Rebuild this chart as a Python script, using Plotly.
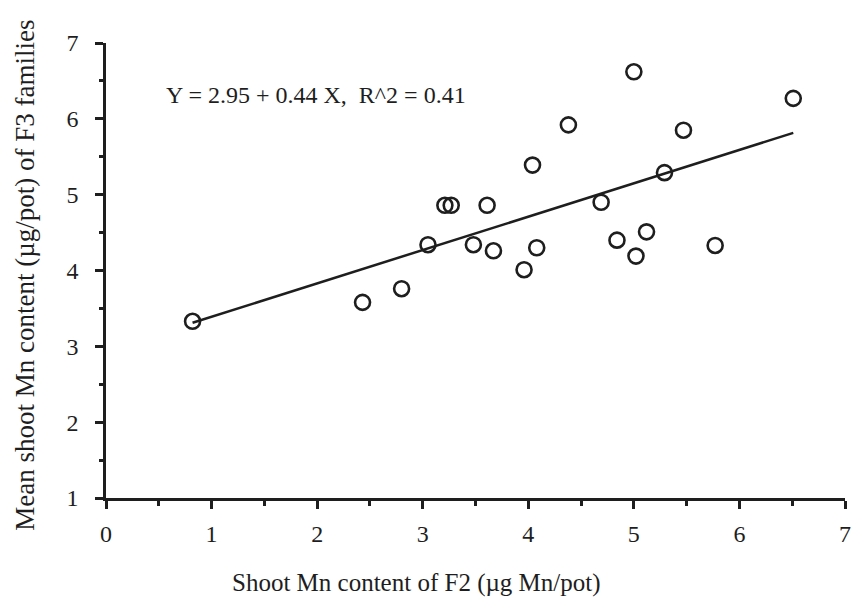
import plotly.graph_objects as go

# Data (F2 shoot Mn vs mean F3 shoot Mn)
f2_mn = [0.82, 2.43, 2.80, 3.05, 3.21, 3.27, 3.61, 3.48, 3.67, 3.96, 4.04,
         4.08, 4.38, 4.69, 4.84, 5.00, 5.02, 5.12, 5.29, 5.47, 5.77, 6.51]
f3_mn = [3.33, 3.58, 3.76, 4.34, 4.86, 4.86, 4.86, 4.34, 4.26, 4.01, 5.39,
         4.30, 5.92, 4.90, 4.40, 6.62, 4.19, 4.51, 5.29, 5.85, 4.33, 6.27]

intercept = 2.95
slope = 0.44
fit_x = [min(f2_mn), max(f2_mn)]
fit_y = [intercept + slope * v for v in fit_x]

eq_text = "Y = 2.95 + 0.44 X,  R^2 = 0.41"
x_title = "Shoot Mn content of F2 (µg Mn/pot)"
y_title = "Mean shoot Mn content (µg/pot) of F3 families"

FONT = "Liberation Serif, Times New Roman, serif"
INK = "#1e1e1e"

fig = go.Figure()
fig.add_trace(go.Scatter(x=fit_x, y=fit_y, mode="lines",
                         line=dict(color=INK, width=2.5), showlegend=False,
                         hoverinfo="skip"))
fig.add_trace(go.Scatter(x=f2_mn, y=f3_mn, mode="markers",
                         marker=dict(symbol="circle-open", size=15,
                                     color=INK, line=dict(width=2.6, color=INK)),
                         showlegend=False))

fig.add_annotation(x=0.55, y=6.32, xref="x", yref="y", text=eq_text,
                   showarrow=False, xanchor="left", yanchor="middle",
                   font=dict(family=FONT, size=24, color=INK))
fig.add_annotation(x=0.42, y=-0.187, xref="paper", yref="paper", text=x_title,
                   showarrow=False, xanchor="center", yanchor="middle",
                   font=dict(family=FONT, size=25, color=INK))
fig.add_annotation(x=-0.11, y=0.49, xref="paper", yref="paper", text=y_title,
                   showarrow=False, xanchor="center", yanchor="middle", textangle=-90,
                   font=dict(family=FONT, size=27, color=INK))

axis_common = dict(showline=True, linecolor=INK, linewidth=2.5, showgrid=False,
                   zeroline=False, ticks="outside", tickcolor=INK, tickwidth=2.5,
                   ticklen=8, ticklabeloverflow="allow", automargin=False,
                   tickfont=dict(family=FONT, size=24, color=INK))

fig.update_xaxes(range=[0, 7], tickvals=[0, 1, 2, 3, 4, 5, 6, 7],
                 ticklabelstandoff=4,
                 minor=dict(dtick=0.5, ticks="outside", ticklen=5, tickwidth=2.5,
                            tickcolor=INK),
                 **axis_common)
fig.update_yaxes(range=[1, 7], tickvals=[1, 2, 3, 4, 5, 6, 7],
                 ticklabelstandoff=12,
                 minor=dict(dtick=0.5, ticks="outside", ticklen=4, tickwidth=2.5,
                            tickcolor=INK),
                 **axis_common)

fig.update_layout(width=854, height=602,
                  margin=dict(l=106, r=9, t=43, b=104, autoexpand=False),
                  plot_bgcolor="white", paper_bgcolor="white",
                  font=dict(family=FONT, color=INK))

fig.write_html("out.html")
